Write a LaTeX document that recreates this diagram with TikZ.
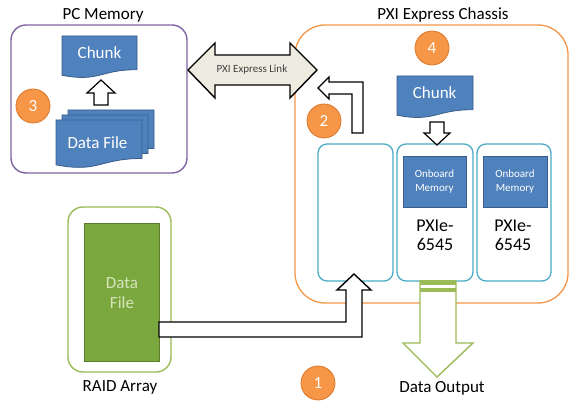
\documentclass[tikz,border=0pt]{standalone}
\usepackage{fontspec}
\setmainfont{Carlito}
\definecolor{pcpurple}{HTML}{8064A2}
\definecolor{chorange}{HTML}{F79646}
\definecolor{circborder}{HTML}{D9772E}
\definecolor{slotcyan}{HTML}{4BACC6}
\definecolor{docblue}{HTML}{4F81BD}
\definecolor{docborder}{HTML}{385D8A}
\definecolor{raidgreen}{HTML}{9BBB59}
\definecolor{raidfill}{HTML}{7BA83E}
\definecolor{raidborder}{HTML}{5E7A2C}
\definecolor{raidtext}{HTML}{D7E4BD}
\definecolor{linkfill}{HTML}{EEECE1}
\newcommand{\docshape}[5]{%
  \draw[#5] (#1,#2) -- (#3,#2) -- (#3,{#2+0.802*(#4)})
    .. controls ({(#1+#3)/2},{#2+0.802*(#4)}) and ({(#1+#3)/2},{#2+1.107*(#4)}) ..
    (#1,{#2+0.934*(#4)}) -- cycle;}
\tikzset{
  base/.style={font=\fontsize{17}{20}\selectfont},
  doc/.style={fill=docblue,draw=docborder,line width=0.8pt},
  blockarrow/.style={draw=black,fill=white,line width=1.4pt,line join=miter},
  numcirc/.style={circle,fill=chorange,draw=circborder,line width=0.8pt,minimum size=34pt,inner sep=0pt,text=white,font=\fontsize{17}{18}\selectfont},
  whitetxt/.style={text=white,font=\fontsize{17}{20}\selectfont,align=center},
  smalltxt/.style={text=white,font=\fontsize{11}{14}\selectfont,align=center},
  cardtxt/.style={font=\fontsize{18}{19}\selectfont,align=center},
  slotbox/.style={draw=slotcyan,line width=1.3pt,rounded corners=9pt,fill=white},
}
\begin{document}
\begin{tikzpicture}[x=1pt,y=-1pt]
\useasboundingbox (0,0) rectangle (576,411);
\fill[white] (0,0) rectangle (576,411);

% PC memory
\draw[pcpurple,line width=1.4pt,rounded corners=15pt] (11,25) rectangle (187,173);
\node[base] (pctitle) at (103,15) {PC Memory};
\docshape{62}{36}{137}{42}{doc}
\node[whitetxt] (pcchunk) at (99.5,53) {Chunk};
\docshape{68}{110}{154}{48}{doc}
\docshape{62}{115}{148}{48}{doc}
\docshape{56}{120}{142}{48}{doc}
\node[whitetxt] (pcdata) at (97.5,143) {Data File};
\draw[blockarrow,line width=1.2pt] (101,80) -- (115,93) -- (108,93) -- (108,105) -- (94,105) -- (94,93) -- (87,93) -- cycle;
\node[numcirc] (c3) at (33,106) {3};

% Chassis
\draw[chorange,line width=1.3pt,rounded corners=30pt] (295,25) rectangle (568,303);
\node[base] (chtitle) at (443,15) {PXI Express Chassis};
\node[slotbox,minimum width=75pt,minimum height=137pt] (slot1) at (355.5,212.5) {};
\node[slotbox,minimum width=76pt,minimum height=137pt] (slot2) at (435,212.5) {};
\node[slotbox,minimum width=74pt,minimum height=137pt] (slot3) at (514,212.5) {};
\node[fill=docblue,draw=docborder,line width=0.6pt,minimum width=63pt,minimum height=51pt,smalltxt,inner sep=0pt] (mem2) at (434.5,181.5) {Onboard\\Memory};
\node[fill=docblue,draw=docborder,line width=0.6pt,minimum width=64pt,minimum height=51pt,smalltxt,inner sep=0pt] (mem3) at (515,181.5) {Onboard\\Memory};
\node[cardtxt] (card2) at (435,235) {PXIe-\\6545};
\node[cardtxt] (card3) at (513,235) {PXIe-\\6545};
\docshape{397}{76}{473}{42}{doc}
\node[whitetxt] (chchunk) at (434.7,93) {Chunk};
\draw[blockarrow,line width=1.2pt] (430,122) -- (444,122) -- (444,133) -- (450,133) -- (437,145) -- (424,133) -- (430,133) -- cycle;
\node[numcirc] (c4) at (432,48) {4};

% PXI Express Link
\draw[blockarrow,fill=linkfill] (188,70) -- (215,43) -- (215,55) -- (290,55) -- (290,43) -- (317,70) -- (290,98) -- (290,85) -- (215,85) -- (215,98) -- cycle;
\node[text=black!75,font=\fontsize{11}{13}\selectfont] (link) at (252,70) {PXI Express Link};

% arrow 2
\draw[blockarrow] (318,88) -- (329,77) -- (329,82) -- (363,82) -- (363,133) -- (352,133) -- (352,94) -- (329,94) -- (329,99) -- cycle;
\node[numcirc] (c2) at (324,121) {2};

% RAID
\draw[raidgreen,line width=1.4pt,rounded corners=15pt] (68,207) rectangle (171,372);
\node[fill=raidfill,draw=raidborder,line width=0.6pt,minimum width=75pt,minimum height=138pt,inner sep=0pt] (raid) at (121.5,292) {};
\node[text=raidtext,font=\fontsize{17}{20}\selectfont,align=center] (raidtxt) at (122,293) {Data\\File};
\node[base] (raidlbl) at (120,387) {RAID Array};

% arrow 1
\draw[blockarrow] (159,322) -- (346,322) -- (346,290) -- (337,290) -- (354,274) -- (371,290) -- (362,290) -- (362,337) -- (159,337) -- cycle;
\node[numcirc] (c1) at (318,383) {1};

% Data output
\draw[raidgreen,fill=white,line width=1.4pt,line join=miter] (420,281) -- (456,281) -- (456,343) -- (473,343) -- (437,377) -- (403,343) -- (420,343) -- cycle;
\fill[raidgreen] (420,280.5) rectangle (456,285);
\fill[raidgreen] (420,288.5) rectangle (456,292);
\node[base] (outlbl) at (442,388) {Data Output};
\end{tikzpicture}
\end{document}
